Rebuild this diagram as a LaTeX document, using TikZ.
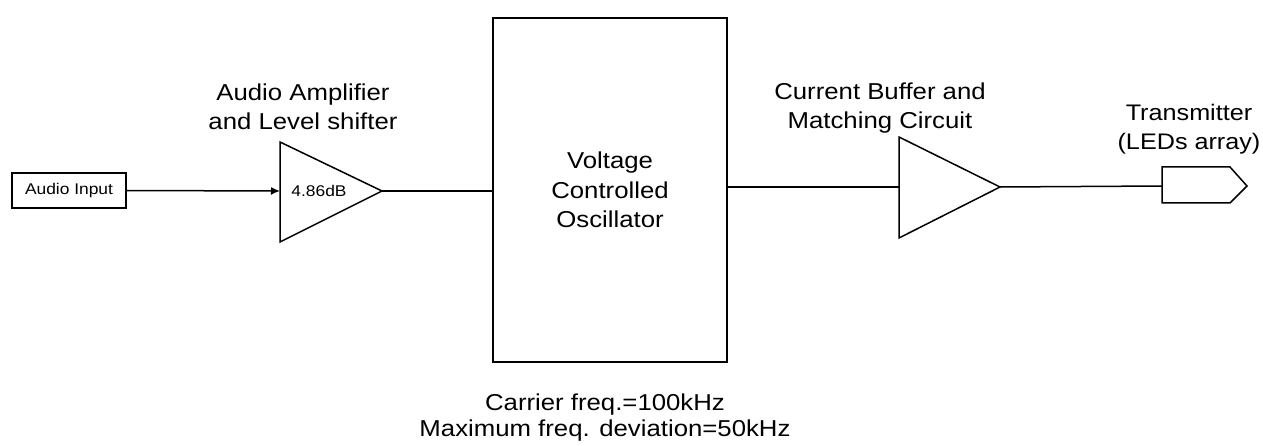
\documentclass[tikz,border=0pt]{standalone}
\usepackage{fontspec}
\setmainfont[FakeStretch=1.12]{Liberation Sans}
\usetikzlibrary{arrows.meta}
\begin{document}
\begin{tikzpicture}[x=1pt,y=-1pt,
  line/.style={line width=1.5pt},
  blk/.style={draw,line width=1.5pt,inner sep=0pt},
  lbl/.style={align=center,font=\fontsize{23}{29.5}\selectfont,inner sep=0pt},
  small/.style={font=\fontsize{15.5}{18}\selectfont,inner sep=0pt}]
\useasboundingbox (0,0) rectangle (1263,446);
% Audio input
\node[blk,small,minimum width=114pt,minimum height=35pt] (ain) at (69,190.5) {Audio Input};
% Amplifier triangle
\coordinate (a1l) at (280,191);
\coordinate (a1o) at (382,191);
\draw[line,line join=miter] (280,142) -- (382,191) -- (280,242) -- cycle;
\node[small] (gain) at (319,191) {4.86dB};
\node[lbl] (amplbl) at (303,107) {Audio Amplifier\\and Level shifter};
% VCO
\node[blk,lbl,minimum width=234pt,minimum height=344pt] (vco) at (610,190) {Voltage\\Controlled\\Oscillator};
\coordinate (vcoin) at (vco.west |- a1o);
\coordinate (vcoout) at (vco.east |- 0,187);
% Buffer triangle
\coordinate (b1l) at (899,187);
\coordinate (b1o) at (1000,187);
\draw[line,line join=miter] (899,137) -- (1000,187) -- (899,238) -- cycle;
\node[lbl] (buflbl) at (880,108) {Current Buffer and\\Matching Circuit};
% Transmitter
\coordinate (txl) at (1162,186);
\draw[line,line join=miter] (1162,167) -- (1230,167) -- (1247,186) -- (1230,203) -- (1162,203) -- cycle;
\node[lbl,font=\fontsize{22.5}{29.5}\selectfont] (txlbl) at (1189,129) {Transmitter\\(LEDs array)};
% caption
\node[lbl,font=\fontsize{23}{26}\selectfont] (cap) at (605,418) {Carrier freq.=100kHz\\Maximum freq. deviation=50kHz};
% connectors
\draw[line,-{Latex[length=9pt,width=8pt]}] (ain.east) -- (a1l);
\draw[line] (a1o) -- (vcoin);
\draw[line] (vcoout) -- (b1l);
\draw[line] (b1o) -- (txl);
\end{tikzpicture}
\end{document}
